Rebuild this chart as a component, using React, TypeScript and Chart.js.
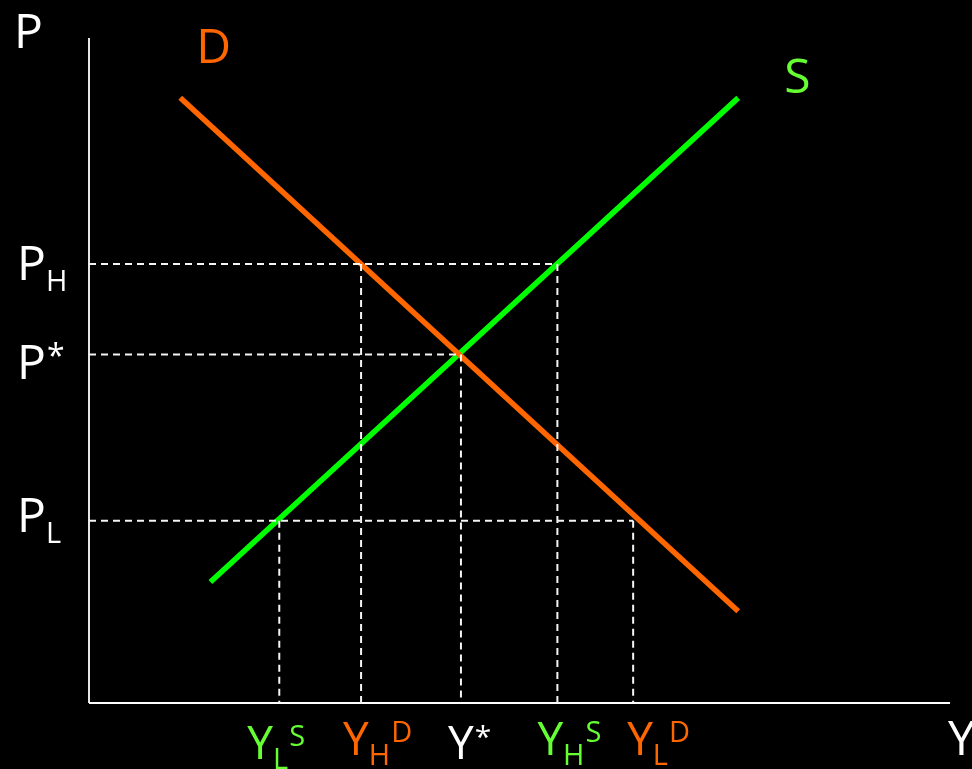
import React, { useEffect, useRef } from "react";
import { Chart, registerables } from "chart.js";

Chart.register(...registerables);

// ---------- data (abstract units: 0..100 on both axes) ----------
const X_MAX = 100;
const Y_MAX = 100;

const demandX = [10.6, 75.4];
const demandY = [91.0, 13.8];
const supplyX = [14.1, 75.4];
const supplyY = [18.2, 91.0];

// price levels: P_H, P*, P_L
const priceLevels = [66.0, 52.4, 27.4];
const priceMain = ["P", "P", "P"];
const priceSub = ["H", "", "L"];
const priceSup = ["", "*", ""];

// quantity levels: Y_L^S, Y_H^D, Y*, Y_H^S, Y_L^D
const quantityLevels = [22.1, 31.6, 43.2, 54.4, 63.2];
const quantityMain = ["Y", "Y", "Y", "Y", "Y"];
const quantitySub = ["L", "H", "", "H", "L"];
const quantitySup = ["S", "D", "*", "S", "D"];
// which price level each quantity guide rises to (index into priceLevels)
const quantityPriceIndex = [2, 0, 1, 0, 2];

// ---------- styles / layout ----------
const ORANGE = "#FF6600";
const GREEN_LINE = "#00FF00";
const GREEN_TEXT = "#66FF33";
const WHITE = "#FFFFFF";
const FONT = '"Open Sans", "Noto Sans", sans-serif';
const quantityColors = [GREEN_TEXT, ORANGE, WHITE, GREEN_TEXT, ORANGE];
const xLabelNudge = [-32, -18, -13, -20, -6];
const xLabelBaseline = [56, 52, 56, 52, 52];
const yLabelBaseline = [16, 24, 11];

function seg(x1: number, y1: number, x2: number, y2: number) {
  return [
    { x: x1, y: y1 },
    { x: x2, y: y2 },
  ];
}

function drawComposite(
  ctx: CanvasRenderingContext2D,
  x: number,
  baseline: number,
  main: string,
  sub: string,
  sup: string,
  color: string,
  mainSize: number,
  smallSize: number,
  subDy: number,
  supDy: number
) {
  ctx.fillStyle = color;
  ctx.textAlign = "left";
  ctx.textBaseline = "alphabetic";
  ctx.font = `${mainSize}px ${FONT}`;
  ctx.fillText(main, x, baseline);
  let cx = x + ctx.measureText(main).width;
  if (sub) {
    ctx.font = `${smallSize}px ${FONT}`;
    ctx.fillText(sub, cx, baseline + subDy);
    cx += ctx.measureText(sub).width + 1;
  }
  if (sup) {
    if (sup === "*") {
      ctx.font = `${Math.round(mainSize * 0.66)}px ${FONT}`;
      ctx.fillText(sup, cx + 1, baseline - 12);
    } else {
      ctx.font = `${smallSize}px ${FONT}`;
      ctx.fillText(sup, cx, baseline + supDy);
    }
  }
}

const labelsPlugin = {
  id: "econLabels",
  beforeDraw(chart: any) {
    const ctx = chart.ctx;
    ctx.save();
    ctx.fillStyle = "#000";
    ctx.fillRect(0, 0, chart.width, chart.height);
    ctx.restore();
  },
  afterDatasetsDraw(chart: any) {
    const ctx: CanvasRenderingContext2D = chart.ctx;
    const xs = chart.scales.x;
    const ys = chart.scales.y;
    const x0 = xs.getPixelForValue(0);
    const y0 = ys.getPixelForValue(0);
    ctx.save();

    // axis titles
    ctx.font = `48px ${FONT}`;
    ctx.fillStyle = WHITE;
    ctx.textBaseline = "alphabetic";
    ctx.textAlign = "left";
    ctx.fillText("P", x0 - 75, ys.getPixelForValue(Y_MAX) + 10);
    ctx.fillText("Y", xs.getPixelForValue(X_MAX) - 2, y0 + 52);

    // curve labels
    ctx.fillStyle = ORANGE;
    ctx.fillText("D", xs.getPixelForValue(demandX[0]) + 16, ys.getPixelForValue(demandY[0]) - 35);
    ctx.fillStyle = GREEN_TEXT;
    ctx.fillText("S", xs.getPixelForValue(supplyX[1]) + 46, ys.getPixelForValue(supplyY[1]) - 5);

    // price labels
    priceLevels.forEach((p, i) => {
      drawComposite(ctx, 17, ys.getPixelForValue(p) + yLabelBaseline[i], priceMain[i], priceSub[i], priceSup[i], WHITE, 48, 29, 11, 0);
    });

    // quantity labels
    quantityLevels.forEach((q, i) => {
      drawComposite(
        ctx,
        xs.getPixelForValue(q) + xLabelNudge[i],
        y0 + xLabelBaseline[i],
        quantityMain[i],
        quantitySub[i],
        quantitySup[i],
        quantityColors[i],
        46,
        29,
        10,
        -13
      );
    });
    ctx.restore();
  },
};

export default function App() {
  const ref = useRef<HTMLCanvasElement | null>(null);

  useEffect(() => {
    if (!ref.current) return;

    const dashed = {
      borderColor: "#F4F4F4",
      borderWidth: 2,
      borderDash: [7, 5],
      pointRadius: 0,
      fill: false,
      clip: false as any,
    };

    const guides: any[] = [];
    priceLevels.forEach((p, i) => {
      const ends = quantityLevels.filter((_, k) => quantityPriceIndex[k] === i);
      const xEnd = Math.max(...ends);
      guides.push({ ...dashed, data: seg(0, p, xEnd, p) });
    });
    quantityLevels.forEach((q, k) => {
      const p = priceLevels[quantityPriceIndex[k]];
      guides.push({ ...dashed, data: seg(q, p, q, 0) });
    });

    const solid = (color: string, width: number) => ({
      borderColor: color,
      borderWidth: width,
      pointRadius: 0,
      fill: false,
      clip: false as any,
      borderCapStyle: "butt" as const,
    });

    const chart = new Chart(ref.current, {
      type: "line",
      data: {
        datasets: [
          ...guides,
          { ...solid(WHITE, 2), data: seg(0, 0, X_MAX, 0) },
          { ...solid("#E6E6E6", 2), data: seg(0, 0, 0, Y_MAX) },
          { ...solid(ORANGE, 5.5), data: seg(demandX[0], demandY[0], demandX[1], demandY[1]) },
          { ...solid(GREEN_LINE, 5.5), data: seg(supplyX[0], supplyY[0], supplyX[1], supplyY[1]) },
        ],
      },
      options: {
        responsive: false,
        animation: false,
        layout: { padding: { left: 89, right: 22, top: 38, bottom: 66 } },
        plugins: { legend: { display: false }, tooltip: { enabled: false } },
        elements: { line: { tension: 0 } },
        scales: {
          x: { type: "linear", min: 0, max: X_MAX, display: false },
          y: { type: "linear", min: 0, max: Y_MAX, display: false },
        },
      },
      plugins: [labelsPlugin],
    });
    return () => chart.destroy();
  }, []);

  return (
    <div style={{ position: "fixed", left: 0, top: 0, width: 972, height: 769, background: "#000" }}>
      <canvas ref={ref} width={972} height={769} style={{ display: "block", width: 972, height: 769 }} />
    </div>
  );
}
